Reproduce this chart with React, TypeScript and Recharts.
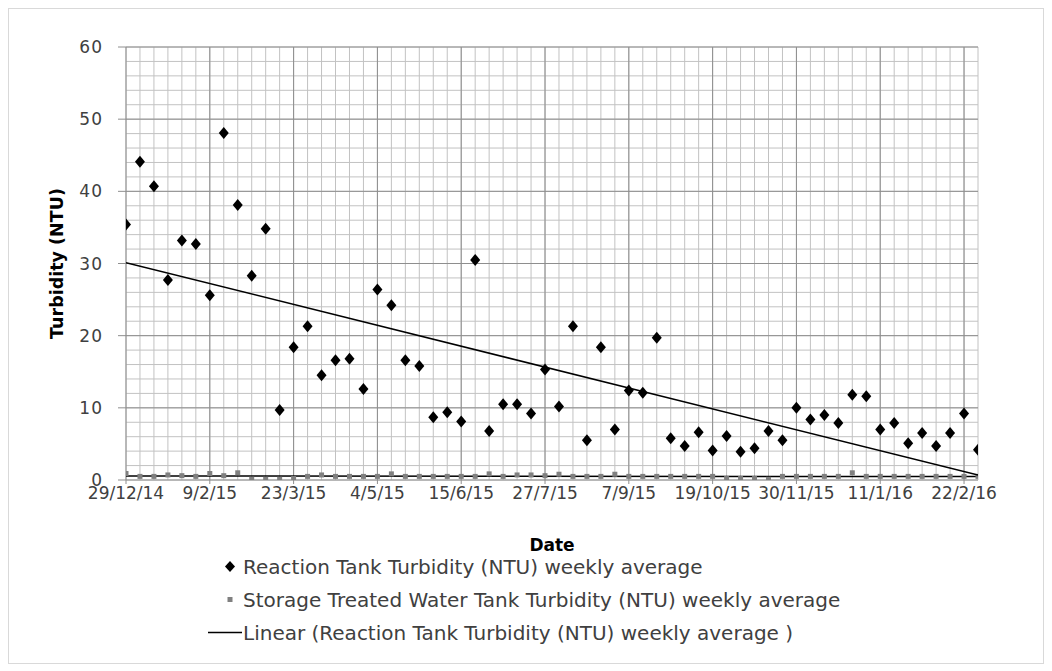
import React from 'react';
import {
  ComposedChart,
  Scatter,
  XAxis,
  YAxis,
  CartesianGrid,
  ReferenceLine,
  Legend,
  Label,
} from 'recharts';

// Weekly samples starting 29/12/14 (index = week number)
const reactionTurbidity = [
  35.4, 44.1, 40.7, 27.7, 33.2, 32.7, 25.6, 48.1, 38.1, 28.3, 34.8, 9.7, 18.4, 21.3, 14.5, 16.6,
  16.8, 12.6, 26.4, 24.2, 16.6, 15.8, 8.7, 9.4, 8.1, 30.5, 6.8, 10.5, 10.5, 9.2, 15.3, 10.2,
  21.3, 5.5, 18.4, 7.0, 12.4, 12.1, 19.7, 5.8, 4.7, 6.6, 4.1, 6.1, 3.9, 4.4, 6.8, 5.5,
  10.0, 8.4, 9.0, 7.9, 11.8, 11.6, 7.0, 7.9, 5.1, 6.5, 4.7, 6.5, 9.2, 4.2,
];

const storageTurbidity = [
  0.9, 0.5, 0.5, 0.7, 0.6, 0.5, 0.9, 0.6, 1.0, 0.1, 0.1, 0.1, 0.2, 0.5, 0.7, 0.5,
  0.5, 0.5, 0.5, 0.85, 0.5, 0.5, 0.5, 0.5, 0.5, 0.5, 0.85, 0.5, 0.7, 0.7, 0.6, 0.8,
  0.5, 0.5, 0.5, 0.8, 0.5, 0.5, 0.5, 0.5, 0.5, 0.5, 0.5, 0.2, 0.2, 0.2, 0.1, 0.5,
  0.5, 0.5, 0.5, 0.5, 1.0, 0.5, 0.5, 0.5, 0.5, 0.5, 0.5, 0.5, 0.5, 0.5,
];

const dateTickWeeks = [0, 6, 12, 18, 24, 30, 36, 42, 48, 54, 60];
const dateTickLabels = [
  '29/12/14', '9/2/15', '23/3/15', '4/5/15', '15/6/15', '27/7/15',
  '7/9/15', '19/10/15', '30/11/15', '11/1/16', '22/2/16',
];
const minorWeekTicks = Array.from({ length: 61 }, (_, i) => i);
const yMajorTicks = [0, 10, 20, 30, 40, 50, 60];
const yMinorTicks = Array.from({ length: 31 }, (_, i) => i * 2);

const reactionData = reactionTurbidity.map((y, x) => ({ x, y }));
const storageData = storageTurbidity.map((y, x) => ({ x, y }));

function linearFit(data: { x: number; y: number }[], x0: number, x1: number) {
  const n = data.length;
  const mx = data.reduce((s, d) => s + d.x, 0) / n;
  const my = data.reduce((s, d) => s + d.y, 0) / n;
  let num = 0;
  let den = 0;
  data.forEach((d) => {
    num += (d.x - mx) * (d.y - my);
    den += (d.x - mx) * (d.x - mx);
  });
  const b = num / den;
  const a = my - b * mx;
  return [
    { x: x0, y: a + b * x0 },
    { x: x1, y: a + b * x1 },
  ];
}

const reactionTrend = linearFit(reactionData, 0, 61);
const storageTrend = linearFit(storageData, 0, 61);

const FONT = '"DejaVu Sans", sans-serif';
const TEXT = '#404040';
const MINOR = '#c2c2c2';
const MAJOR = '#8e8e8e';

const XTick = (props: any) => {
  const { x, y, payload } = props;
  const idx = dateTickWeeks.indexOf(payload.value);
  if (idx < 0) return <g />;
  return (
    <g>
      <line x1={x} x2={x} y1={y} y2={y + 4} stroke={MAJOR} />
      <text x={x} y={y + 13} textAnchor="middle" dominantBaseline="central" fontFamily={FONT} fontSize={17} fill={TEXT}>
        {dateTickLabels[idx]}
      </text>
    </g>
  );
};

const YTick = (props: any) => {
  const { x, y, payload } = props;
  if (yMajorTicks.indexOf(payload.value) < 0) return <g />;
  return (
    <g>
      <line x1={x - 8} x2={x} y1={y} y2={y} stroke={MAJOR} />
      <text x={x - 23} y={y} textAnchor="end" dominantBaseline="central" fontFamily={FONT} fontSize={17} fill={TEXT} letterSpacing={1}>
        {payload.value}
      </text>
    </g>
  );
};

const Diamond = (props: any) => {
  const { cx, cy } = props;
  if (cx == null || cy == null) return <g />;
  return <path d={`M${cx},${cy - 6} L${cx + 5},${cy} L${cx},${cy + 6} L${cx - 5},${cy} Z`} fill="#000" />;
};

const Square = (props: any) => {
  const { cx, cy } = props;
  if (cx == null || cy == null) return <g />;
  return <rect x={cx - 2.5} y={cy - 2.5} width={5} height={5} fill="#808080" />;
};

const NoShape = () => <g />;

const legendItems = [
  { key: 'diamond', label: 'Reaction Tank Turbidity (NTU) weekly average' },
  { key: 'square', label: 'Storage Treated Water Tank Turbidity (NTU) weekly average' },
  { key: 'line', label: 'Linear (Reaction Tank Turbidity (NTU) weekly average )' },
];

const LegendContent = () => (
  <div style={{ fontFamily: FONT, fontSize: 20, color: TEXT }}>
    {legendItems.map((it) => (
      <div key={it.key} style={{ height: 33, display: 'flex', alignItems: 'center', whiteSpace: 'nowrap' }}>
        <svg width={35} height={33} style={{ flex: 'none' }}>
          {it.key === 'diamond' && <path d="M22,11 L27,16.5 L22,22 L17,16.5 Z" fill="#000" />}
          {it.key === 'square' && <rect x={19.5} y={14} width={5} height={5} fill="#808080" />}
          {it.key === 'line' && <line x1={0} x2={34} y1={16.5} y2={16.5} stroke="#000" strokeWidth={1.5} />}
        </svg>
        <span>{it.label}</span>
      </div>
    ))}
  </div>
);

export default function App() {
  return (
    <div
      style={{
        width: 1036,
        height: 656,
        border: '1px solid #d9d9d9',
        boxSizing: 'border-box',
        position: 'relative',
        background: '#fff',
      }}
    >
      <ComposedChart width={1034} height={654} margin={{ top: 38, right: 65, bottom: 153, left: 0 }}>
        <CartesianGrid stroke={MINOR} strokeWidth={1} />
        {yMajorTicks.slice(1).map((v) => (
          <ReferenceLine key={'hy' + v} y={v} stroke={MAJOR} strokeWidth={1} />
        ))}
        {dateTickWeeks.slice(1).map((w) => (
          <ReferenceLine key={'vx' + w} x={w} stroke={MAJOR} strokeWidth={1} />
        ))}
        <XAxis
          type="number"
          dataKey="x"
          domain={[0, 61]}
          ticks={minorWeekTicks}
          interval={0}
          tickSize={0}
          tickMargin={0}
          tickLine={false}
          tick={<XTick />}
          height={30}
          axisLine={{ stroke: MAJOR }}
          allowDataOverflow
        >
          <Label
            value="Date"
            position="bottom"
            offset={29}
            style={{ fontFamily: FONT, fontSize: 17, fontWeight: 'bold', fill: '#000' }}
          />
        </XAxis>
        <YAxis
          type="number"
          dataKey="y"
          domain={[0, 60]}
          ticks={yMinorTicks}
          interval={0}
          tickSize={0}
          tickMargin={0}
          tickLine={false}
          tick={<YTick />}
          width={117}
          axisLine={{ stroke: MAJOR }}
          allowDataOverflow
        >
          <Label
            content={(p: any) => {
              const vb = p.viewBox || {};
              const cx = vb.x + 48;
              const cy = vb.y + vb.height / 2;
              return (
                <text
                  x={cx}
                  y={cy}
                  transform={`rotate(-90, ${cx}, ${cy})`}
                  textAnchor="middle"
                  dominantBaseline="central"
                  fontFamily={FONT}
                  fontSize={17.5}
                  fontWeight="bold"
                  fill="#000"
                >
                  Turbidity (NTU)
                </text>
              );
            }}
          />
        </YAxis>
        <Scatter
          name="Storage trend"
          data={storageTrend}
          line={{ stroke: '#000', strokeWidth: 1.5 }}
          shape={<NoShape />}
          legendType="none"
          isAnimationActive={false}
        />
        <Scatter
          name="Storage Treated Water Tank Turbidity (NTU) weekly average"
          data={storageData}
          shape={<Square />}
          isAnimationActive={false}
        />
        <Scatter
          name="Linear (Reaction Tank Turbidity (NTU) weekly average )"
          data={reactionTrend}
          line={{ stroke: '#000', strokeWidth: 1.5 }}
          shape={<NoShape />}
          isAnimationActive={false}
        />
        <Scatter
          name="Reaction Tank Turbidity (NTU) weekly average"
          data={reactionData}
          shape={<Diamond />}
          isAnimationActive={false}
        />
        <Legend
          layout="horizontal"
          align="center"
          verticalAlign="middle"
          content={<LegendContent />}
          wrapperStyle={{ position: 'absolute', top: 541, left: 199, width: 800, height: 100 }}
        />
      </ComposedChart>
    </div>
  );
}
